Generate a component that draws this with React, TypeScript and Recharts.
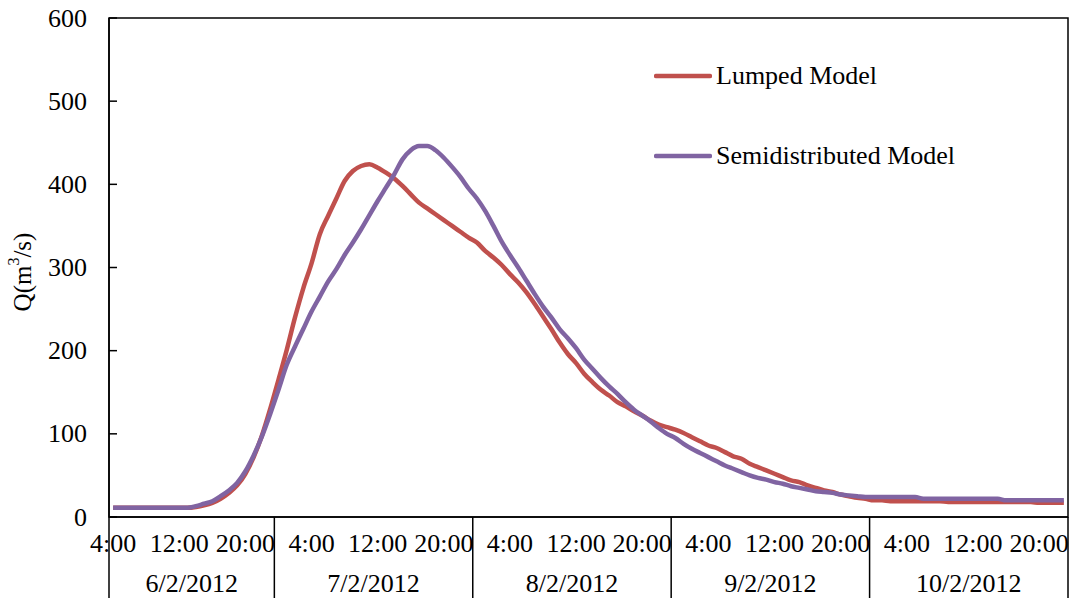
import { LineChart, Line, XAxis, YAxis, Legend, ReferenceArea } from 'recharts';

// hourly simulated discharge, 6/2/2012 4:00 -> 10/2/2012 23:00
const days = ['6/2/2012', '7/2/2012', '8/2/2012', '9/2/2012', '10/2/2012'];
const firstHour = 4;
const labelHours = [4, 12, 20];
const yTicks = [0, 100, 200, 300, 400, 500, 600];

const lumped = [
  11, 11, 11, 11, 11, 11, 11, 11, 11, 11,
  12, 14, 17, 22, 29, 38, 52, 72, 98, 130,
  165, 201, 240, 275, 305, 340, 362, 383, 404, 416,
  422, 424, 420, 414, 407, 398, 388, 378, 371, 364,
  357, 350, 343, 336, 330, 320, 312, 303, 292, 282,
  270, 256, 241, 226, 210, 196, 185, 172, 162, 153,
  146, 138, 133, 127, 122, 116, 111, 108, 105, 101,
  96, 91, 86, 83, 78, 73, 70, 64, 60, 56,
  52, 48, 44, 42, 38, 35, 32, 30, 27, 25,
  23, 22, 20, 20, 19, 19, 19, 19, 19, 19,
  19, 18, 18, 18, 18, 18, 18, 18, 18, 18,
  18, 18, 17, 17, 17, 17,
];

const semidistributed = [
  11, 11, 11, 11, 11, 11, 11, 11, 11, 11,
  13, 16, 19, 25, 32, 41, 55, 74, 97, 124,
  153, 183, 205, 226, 247, 265, 283, 298, 315, 330,
  346, 363, 380, 396, 412, 430, 441, 446, 446, 441,
  432, 421, 409, 395, 383, 368, 350, 331, 315, 300,
  284, 268, 253, 240, 226, 215, 203, 189, 178, 167,
  157, 148, 138, 129, 122, 115, 107, 100, 95, 88,
  82, 77, 72, 67, 62, 58, 54, 50, 47, 45,
  42, 40, 37, 35, 33, 31, 30, 29, 27, 26,
  25, 24, 24, 24, 24, 24, 24, 24, 22, 22,
  22, 22, 22, 22, 22, 22, 22, 22, 20, 20,
  20, 20, 20, 20, 20, 20,
];

const FONT = '"Liberation Serif", "Times New Roman", serif';
const RED = '#C0504D';
const PURPLE = '#8064A2';

const data = lumped.map((v, i) => {
  const abs = firstHour + i;
  return {
    idx: i,
    day: days[Math.floor(abs / 24)],
    hour: abs % 24,
    lumped: v,
    semi: semidistributed[i],
  };
});

const last = data.length - 1;
const hourTicks = data.filter((d) => labelHours.includes(d.hour)).map((d) => d.idx);
const bounds: number[] = [-0.5];
const centers: number[] = [];
days.forEach((day) => {
  const rows = data.filter((d) => d.day === day);
  const a = rows[0].idx - 0.5;
  const b = rows[rows.length - 1].idx + 0.5;
  centers.push((a + b) / 2);
  if (b < last) bounds.push(b);
});
bounds.push(last + 0.5);
const xTicks = [...hourTicks, ...bounds, ...centers];

function XTick(props: any) {
  const { x, y, payload } = props;
  const v = payload.value;
  if (bounds.includes(v)) {
    return <line x1={x} x2={x} y1={y} y2={y + 85} stroke="#000" strokeWidth={1.5} />;
  }
  if (centers.includes(v)) {
    const k = centers.indexOf(v);
    return (
      <text x={x} y={y + 75} textAnchor="middle" fontFamily={FONT} fontSize={26} fill="#000">
        {days[k]}
      </text>
    );
  }
  const h = data[v].hour;
  return (
    <text x={x} y={y + 35} textAnchor="middle" fontFamily={FONT} fontSize={26} fill="#000">
      {h}:00
    </text>
  );
}

function YTick(props: any) {
  const { x, y, payload } = props;
  return (
    <g>
      <line x1={x} x2={x + 8} y1={y} y2={y} stroke="#000" strokeWidth={1.5} />
      <text x={x - 22} y={y} textAnchor="end" dominantBaseline="central" fontFamily={FONT} fontSize={26} fill="#000">
        {payload.value}
      </text>
    </g>
  );
}

function LegendBox() {
  const rows = [
    { name: 'Lumped Model', color: RED },
    { name: 'Semidistributed Model', color: PURPLE },
  ];
  return (
    <div style={{ fontFamily: FONT, fontSize: 26, color: '#000' }}>
      {rows.map((r, i) => (
        <div key={r.name} style={{ display: 'flex', alignItems: 'center', height: 40, marginTop: i ? 40 : 0 }}>
          <svg width={58} height={10}>
            <line x1={2} x2={56} y1={5} y2={5} stroke={r.color} strokeWidth={4.5} strokeLinecap="round" />
          </svg>
          <span style={{ marginLeft: 4, whiteSpace: 'nowrap' }}>{r.name}</span>
        </div>
      ))}
    </div>
  );
}

function YTitle() {
  return (
    <text x={22} y={272} transform="rotate(-90, 22, 272)" textAnchor="middle" dominantBaseline="central" fontFamily={FONT} fontSize={25} fill="#000">
      Q(m<tspan fontSize={16} dy={-9}>3</tspan><tspan dy={9}>/s)</tspan>
    </text>
  );
}

export default function App() {
  return (
    <div style={{ position: 'absolute', left: 0, top: 0, background: '#fff' }}>
      <LineChart width={1073} height={598} data={data} margin={{ top: 18, right: 5, bottom: 0, left: 0 }}>
        <XAxis
          dataKey="idx"
          type="number"
          domain={[-0.5, last + 0.5]}
          ticks={xTicks}
          interval={0}
          tick={<XTick />}
          tickLine={false}
          tickSize={0}
          tickMargin={0}
          height={81}
          axisLine={{ stroke: '#000', strokeWidth: 1.5 }}
        />
        <YAxis
          domain={[0, 600]}
          ticks={yTicks}
          interval={0}
          width={109}
          tick={<YTick />}
          tickLine={false}
          tickSize={0}
          tickMargin={0}
          axisLine={{ stroke: '#000', strokeWidth: 1.5 }}
          label={{ content: () => <YTitle /> }}
        />
        <ReferenceArea x1={-0.5} x2={last + 0.5} y1={0} y2={600} fill="none" stroke="#000" strokeWidth={1.5} />
        <Legend
          layout="vertical"
          verticalAlign="middle"
          align="center"
          content={() => <LegendBox />}
          wrapperStyle={{ position: 'absolute', left: 654, top: 56, width: 360 }}
        />
        <Line type="monotone" dataKey="lumped" name="Lumped Model" stroke={RED} strokeWidth={4.5} dot={false} isAnimationActive={false} />
        <Line type="monotone" dataKey="semi" name="Semidistributed Model" stroke={PURPLE} strokeWidth={4.5} dot={false} isAnimationActive={false} />
      </LineChart>
    </div>
  );
}
